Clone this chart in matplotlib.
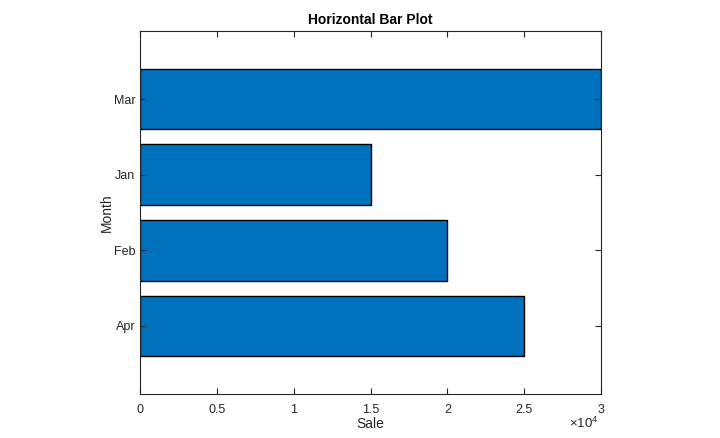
import matplotlib
matplotlib.use("Agg")
import matplotlib.pyplot as plt
from matplotlib.ticker import FuncFormatter, MultipleLocator

months = ["Apr", "Feb", "Jan", "Mar"]
sales = [25000, 20000, 15000, 30000]

plt.rcParams['font.family'] = ['Liberation Sans', 'DejaVu Sans']
plt.rcParams['mathtext.fontset'] = 'custom'
plt.rcParams['mathtext.rm'] = 'Liberation Sans'
plt.rcParams['mathtext.it'] = 'Liberation Sans'

axc = '#262626'
fig = plt.figure(figsize=(7.2, 4.38), dpi=100)
ax = fig.add_axes([140/720, 1-394/438, (601-140)/720, (394-31)/438])

pos = list(range(1, len(months)+1))
ax.barh(pos, sales, height=0.8, color='#0072BD', edgecolor='black', linewidth=1.0)
ax.set_yticks(pos)
ax.set_yticklabels(months)
ax.set_ylim(0.1, 4.9)
ax.set_xlim(0, 30000)
ax.xaxis.set_major_locator(MultipleLocator(5000))
ax.xaxis.set_major_formatter(FuncFormatter(lambda v, p: f"{v/1e4:g}"))

for s in ax.spines.values():
    s.set_color(axc)
    s.set_linewidth(0.8)
ax.tick_params(direction='in', top=True, right=True, length=4, width=0.8,
               color=axc, labelcolor=axc, labelsize=9)
ax.tick_params(axis='x', pad=7)
ax.set_xlabel('Sale', fontsize=10, color=axc, labelpad=1)
ax.set_ylabel('Month', fontsize=10, color=axc, labelpad=0)
ax.set_title('Horizontal Bar Plot', fontsize=10, fontweight='bold', color='black', pad=5)
ax.text(0.995, -0.06, r'$\times10^{4}$', transform=ax.transAxes, ha='right', va='top',
        fontsize=9.5, color=axc)

fig.savefig('out.png', dpi=100)
